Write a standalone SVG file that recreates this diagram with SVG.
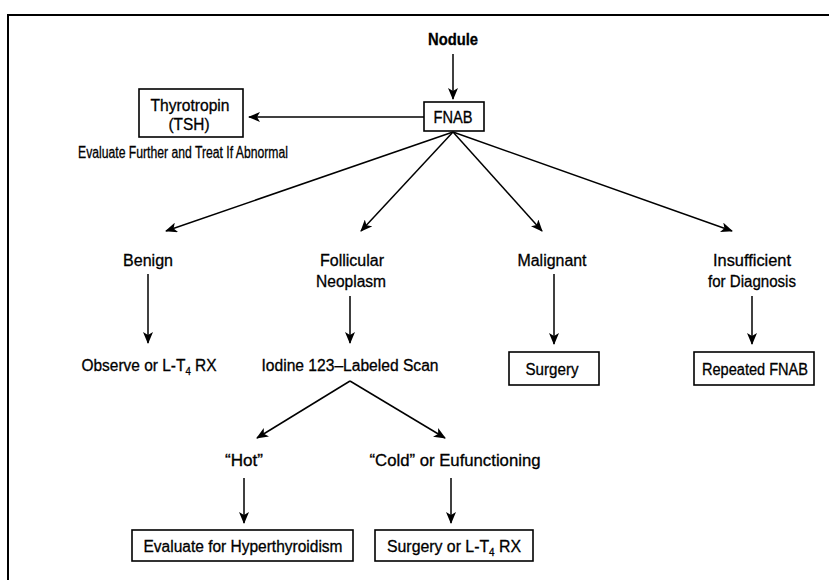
<svg xmlns="http://www.w3.org/2000/svg" width="829" height="580" viewBox="0 0 829 580">
<style>
text{font-family:"Liberation Sans",Arial,sans-serif;font-size:16px;fill:#000;stroke:#000;stroke-width:0.3;text-anchor:middle}
.b{font-weight:bold}
.box{fill:#fff;stroke:#000;stroke-width:1.6}
.c line{stroke:#000;stroke-width:1.5;marker-end:url(#ah)}
.frame{stroke:#000;stroke-width:2;fill:none}
</style>
<defs>
<marker id="ah" markerUnits="userSpaceOnUse" viewBox="0 0 12 10" refX="11" refY="5" markerWidth="12" markerHeight="10" orient="auto">
<path d="M0,0 L12,5 L0,10 L3,5 z" fill="#000"/>
</marker>
</defs>
<rect width="829" height="580" fill="#fff"/>
<path class="frame" d="M8,580 L8,15 L829,15"/>
<g class="c">
<line x1="453" y1="54" x2="453" y2="99"/>
<line x1="424" y1="117" x2="249" y2="117"/>
<line x1="453" y1="132" x2="166" y2="231"/>
<line x1="453" y1="132" x2="361" y2="231"/>
<line x1="453" y1="132" x2="542" y2="231"/>
<line x1="453" y1="132" x2="732" y2="231"/>
<line x1="148" y1="274" x2="148" y2="343"/>
<line x1="350" y1="296" x2="350" y2="343"/>
<line x1="554" y1="274" x2="554" y2="344"/>
<line x1="752" y1="296" x2="752" y2="344"/>
<line x1="350" y1="381" x2="257" y2="438"/>
<line x1="350" y1="381" x2="445" y2="438"/>
<line x1="244" y1="478" x2="244" y2="523"/>
<line x1="451" y1="478" x2="451" y2="523"/>
</g>
<g id="nodule"><text class="b" x="453" y="45" textLength="50" lengthAdjust="spacingAndGlyphs">Nodule</text></g>
<g id="fnab"><rect class="box" x="424" y="102" width="60" height="29"/><text x="453" y="123" textLength="39" lengthAdjust="spacingAndGlyphs">FNAB</text></g>
<g id="tsh"><rect class="box" x="139" y="89" width="104" height="48"/><text x="190" y="111" textLength="79" lengthAdjust="spacingAndGlyphs">Thyrotropin</text><text x="189" y="130" textLength="41" lengthAdjust="spacingAndGlyphs">(TSH)</text></g>
<g id="evaluate-further"><text x="183" y="158" textLength="210" lengthAdjust="spacingAndGlyphs">Evaluate Further and Treat If Abnormal</text></g>
<g id="benign"><text x="148" y="266" textLength="50" lengthAdjust="spacingAndGlyphs">Benign</text></g>
<g id="follicular"><text x="352" y="266" textLength="64" lengthAdjust="spacingAndGlyphs">Follicular</text><text x="351" y="287" textLength="70" lengthAdjust="spacingAndGlyphs">Neoplasm</text></g>
<g id="malignant"><text x="552" y="266" textLength="69" lengthAdjust="spacingAndGlyphs">Malignant</text></g>
<g id="insufficient"><text x="752" y="266" textLength="78" lengthAdjust="spacingAndGlyphs">Insufficient</text><text x="752" y="287" textLength="88" lengthAdjust="spacingAndGlyphs">for Diagnosis</text></g>
<g id="observe"><text x="149" y="371" textLength="135" lengthAdjust="spacingAndGlyphs">Observe or L-T<tspan font-size="10" dy="4">4</tspan><tspan dy="-4"> RX</tspan></text></g>
<g id="iodine"><text x="350" y="371" textLength="177" lengthAdjust="spacingAndGlyphs">Iodine 123–Labeled Scan</text></g>
<g id="surgery"><rect class="box" x="509" y="352" width="90" height="33"/><text x="552" y="375" textLength="53" lengthAdjust="spacingAndGlyphs">Surgery</text></g>
<g id="repeated-fnab"><rect class="box" x="694" y="352" width="120" height="33"/><text x="755" y="375" textLength="106" lengthAdjust="spacingAndGlyphs">Repeated FNAB</text></g>
<g id="hot"><text x="244" y="466" textLength="38" lengthAdjust="spacingAndGlyphs">“Hot”</text></g>
<g id="cold"><text x="455" y="466" textLength="171" lengthAdjust="spacingAndGlyphs">“Cold” or Eufunctioning</text></g>
<g id="hyperthyroidism"><rect class="box" x="132" y="530" width="221" height="31"/><text x="243" y="552" textLength="199" lengthAdjust="spacingAndGlyphs">Evaluate for Hyperthyroidism</text></g>
<g id="surgery-lt4"><rect class="box" x="375" y="530" width="158" height="31"/><text x="454" y="552" textLength="134" lengthAdjust="spacingAndGlyphs">Surgery or L-T<tspan font-size="10" dy="4">4</tspan><tspan dy="-4"> RX</tspan></text></g>
</svg>
